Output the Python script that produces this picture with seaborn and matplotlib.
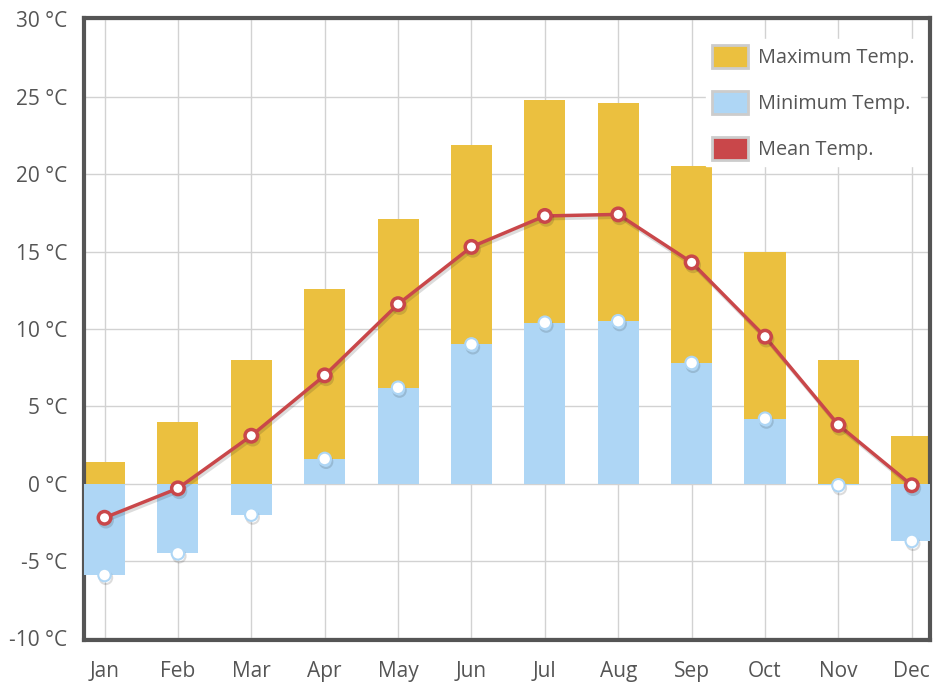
import pandas as pd
import matplotlib.pyplot as plt
import matplotlib.patheffects as pe
from matplotlib.patches import Patch
import seaborn as sns

# -- data
months = ['Jan', 'Feb', 'Mar', 'Apr', 'May', 'Jun',
          'Jul', 'Aug', 'Sep', 'Oct', 'Nov', 'Dec']
max_temp = [1.4, 4.0, 8.0, 12.6, 17.1, 21.9, 24.8, 24.6, 20.5, 15.0, 8.0, 3.1]
min_temp = [-5.9, -4.5, -2.0, 1.6, 6.2, 9.0, 10.4, 10.5, 7.8, 4.2, -0.1, -3.7]
mean_temp = [-2.2, -0.3, 3.1, 7.0, 11.6, 15.3, 17.3, 17.4, 14.3, 9.5, 3.8, -0.1]
yticks = [-10, -5, 0, 5, 10, 15, 20, 25, 30]

MAX_COL = '#ebc03f'
MIN_COL = '#aed6f5'
MEAN_COL = '#c9474a'
TXT_COL = '#555555'


def main():
    df = pd.DataFrame({'Month': months, 'Max': max_temp,
                       'Min': min_temp, 'Mean': mean_temp})

    sns.set_theme(style='white')
    plt.rcParams['font.family'] = ['Open Sans', 'DejaVu Sans']

    fig = plt.figure(figsize=(9.35, 6.86), dpi=100)
    ax = fig.add_axes([0.0898, 0.067, 0.905, 0.907])

    sns.barplot(data=df, x='Month', y='Max', color=MAX_COL, width=0.56,
                saturation=1, linewidth=0, ax=ax, zorder=2)
    sns.barplot(data=df, x='Month', y='Min', color=MIN_COL, width=0.56,
                saturation=1, linewidth=0, ax=ax, zorder=3)

    shadow = [pe.SimpleLineShadow(offset=(1, -2), alpha=0.15), pe.Normal()]
    # white dots at the end of the min bars
    sns.pointplot(data=df, x='Month', y='Min', color='white', linestyle='none',
                  markers='o', markersize=9, markeredgecolor=MIN_COL,
                  markeredgewidth=1.5, ax=ax, zorder=4,
                  path_effects=shadow)
    sns.pointplot(data=df, x='Month', y='Mean', color=MEAN_COL, markers='o',
                  markersize=9, markerfacecolor='white', markeredgecolor=MEAN_COL,
                  markeredgewidth=2.5, linewidth=2.5, ax=ax, zorder=5,
                  path_effects=shadow)

    ax.set_xlim(-0.28, 11.25)
    ax.set_ylim(-10.1, 30.1)
    ax.set_yticks(yticks)
    ax.set_yticklabels([f'{t} °C' for t in yticks])
    ax.set_xlabel('')
    ax.set_ylabel('')

    ax.grid(True, color='#d2d2d2', linewidth=1)
    ax.set_axisbelow(True)
    for s in ax.spines.values():
        s.set_color('#555555')
        s.set_linewidth(3)

    ax.tick_params(axis='y', labelsize=15, labelcolor=TXT_COL, length=0, pad=12)
    ax.tick_params(axis='x', labelsize=15, labelcolor=TXT_COL, length=0, pad=15)

    handles = [Patch(facecolor=MAX_COL, edgecolor='#cccccc', linewidth=2, label='Maximum Temp.'),
               Patch(facecolor=MIN_COL, edgecolor='#cccccc', linewidth=2, label='Minimum Temp.'),
               Patch(facecolor=MEAN_COL, edgecolor='#cccccc', linewidth=2, label='Mean Temp.')]
    leg = ax.legend(handles=handles, loc='upper right', bbox_to_anchor=(1.0, 0.982),
                    fontsize=14.3, frameon=True, facecolor='white', edgecolor='white',
                    framealpha=1, fancybox=False, handlelength=1.8, handleheight=1.4,
                    labelspacing=1.15, handletextpad=0.5, borderpad=0.3)
    for t in leg.get_texts():
        t.set_color(TXT_COL)
    leg.set_zorder(10)

    fig.savefig('out.png', dpi=100)
    plt.close(fig)


if __name__ == "__main__":
    main()
